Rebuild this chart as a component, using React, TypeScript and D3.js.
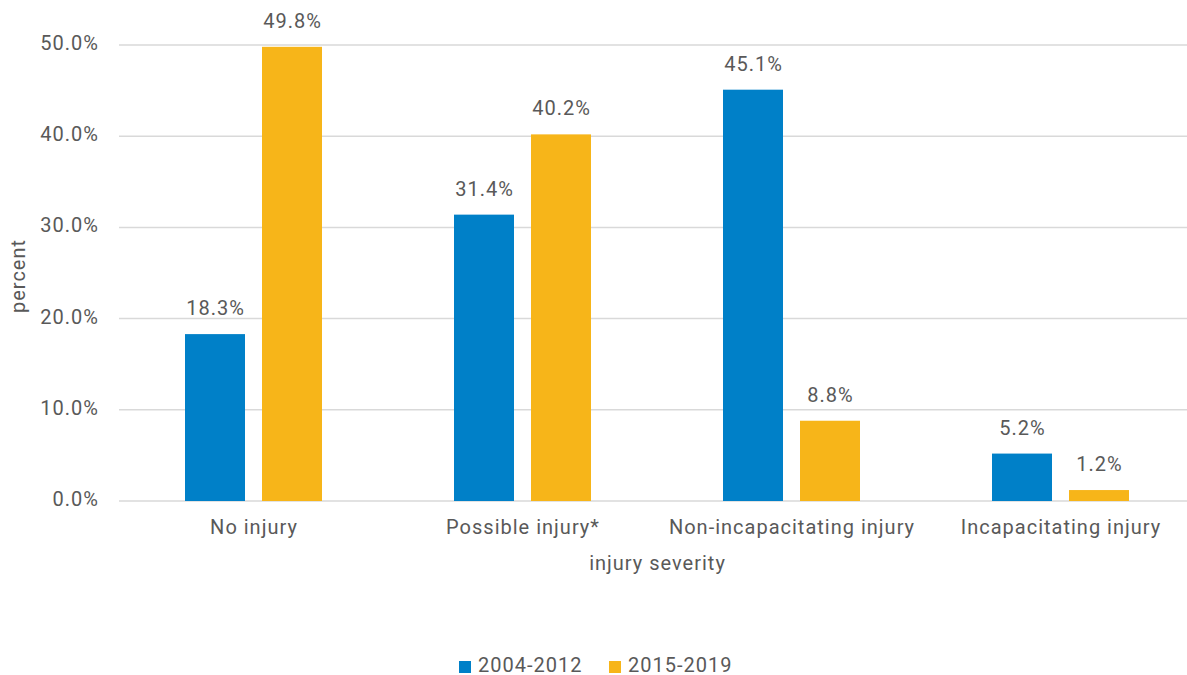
import React from "react";
import * as d3 from "d3";

const categories = ["No injury", "Possible injury*", "Non-incapacitating injury", "Incapacitating injury"];
const seriesNames = ["2004-2012", "2015-2019"];
const values2004 = [18.3, 31.4, 45.1, 5.2];
const values2015 = [49.8, 40.2, 8.8, 1.2];
const yTicks = [0, 10, 20, 30, 40, 50];
const colors = ["#0080C8", "#F7B519"];

const W = 1187, H = 675;
const FONT = "Roboto, 'DejaVu Sans', sans-serif";
const TEXT = "#595959";
const FS = 20;
const LS = 1;

export default function App() {
  const y = d3.scaleLinear().domain([0, 50]).range([501, 45]);
  const x0 = d3.scaleBand<string>().domain(categories).range([119, 1195]);
  const x1 = d3.scaleBand<string>().domain(seriesNames).range([66, 203]).paddingInner(17 / 77).paddingOuter(0);
  const series = [values2004, values2015];
  const tp = { fontSize: FS, fill: TEXT, letterSpacing: LS } as const;
  return (
    <svg width={W} height={H} style={{ position: "absolute", left: 0, top: 0, fontFamily: FONT }}>
      <rect width={W} height={H} fill="#fff" />
      {yTicks.map((t) => (
        <g key={t}>
          <line x1={119} x2={W} y1={y(t)} y2={y(t)} stroke="#D9D9D9" strokeWidth={1.5} />
          <text x={99} y={y(t) + 5} textAnchor="end" {...tp}>{t.toFixed(1)}%</text>
        </g>
      ))}
      {categories.map((c, i) => (
        <g key={c} transform={`translate(${x0(c)},0)`}>
          {seriesNames.map((s, j) => {
            const v = series[j][i];
            const bx = x1(s)!;
            return (
              <g key={s}>
                <rect x={bx} y={y(v)} width={x1.bandwidth()} height={y(0) - y(v)} fill={colors[j]} />
                <text x={bx + x1.bandwidth() / 2 + LS / 2} y={y(v) - 19} textAnchor="middle" {...tp}>{v.toFixed(1)}%</text>
              </g>
            );
          })}
          <text x={x0.bandwidth() / 2 + LS / 2} y={534} textAnchor="middle" {...tp}>{c}</text>
        </g>
      ))}
      <text x={657.5} y={570} textAnchor="middle" {...tp}>injury severity</text>
      <text transform="translate(25,276) rotate(-90)" textAnchor="middle" {...tp}>percent</text>
      {seriesNames.map((s, j) => {
        const lx = [459, 609][j];
        return (
          <g key={s}>
            <rect x={lx} y={661} width={12} height={12} fill={colors[j]} />
            <text x={lx + 19} y={671.5} {...tp}>{s}</text>
          </g>
        );
      })}
    </svg>
  );
}
